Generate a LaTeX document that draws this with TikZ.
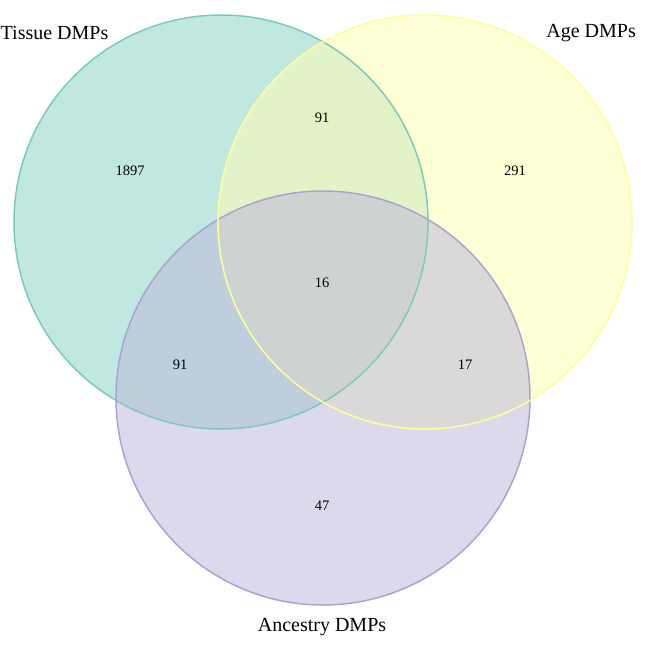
\documentclass[tikz,border=0pt]{standalone}
\usepackage{fontspec}
\setmainfont{Liberation Serif}
\definecolor{tisfill}{HTML}{8DD3C7}
\definecolor{agefill}{HTML}{FFFFB3}
\definecolor{ancfill}{HTML}{BEBADA}
\definecolor{tisline}{HTML}{7CCBBA}
\definecolor{ageline}{HTML}{FFFF99}
\definecolor{ancline}{HTML}{A9A4CF}
\begin{document}
\begin{tikzpicture}[x=1pt,y=-1pt,
  setfill/.style={fill opacity=0.55},
  setline/.style={line width=1.5pt},
  num/.style={font=\fontsize{14.5}{18}\selectfont, inner sep=0pt},
  lab/.style={font=\fontsize{20}{24}\selectfont, inner sep=0pt}]
\useasboundingbox (0,0) rectangle (646,647);
\fill[tisfill, setfill] (221,222) circle (207);
\fill[agefill, setfill] (425,222) circle (207);
\fill[ancfill, setfill] (323,398) circle (207);
\draw[tisline, setline] (221,222) circle (207);
\draw[ancline, setline] (323,398) circle (207);
\draw[ageline, setline] (425,222) circle (207);
\node[num] (n1) at (130,171) {1897};
\node[num] (n2) at (322,118) {91};
\node[num] (n3) at (515,171) {291};
\node[num] (n4) at (322,283) {16};
\node[num] (n5) at (180,365) {91};
\node[num] (n6) at (465,365) {17};
\node[num] (n7) at (322,506) {47};
\node[lab, anchor=west] (lt) at (0.5,33) {Tissue DMPs};
\node[lab, anchor=east] (la) at (636,33) {Age DMPs};
\node[lab] (lc) at (322,627) {Ancestry DMPs};
\end{tikzpicture}
\end{document}
